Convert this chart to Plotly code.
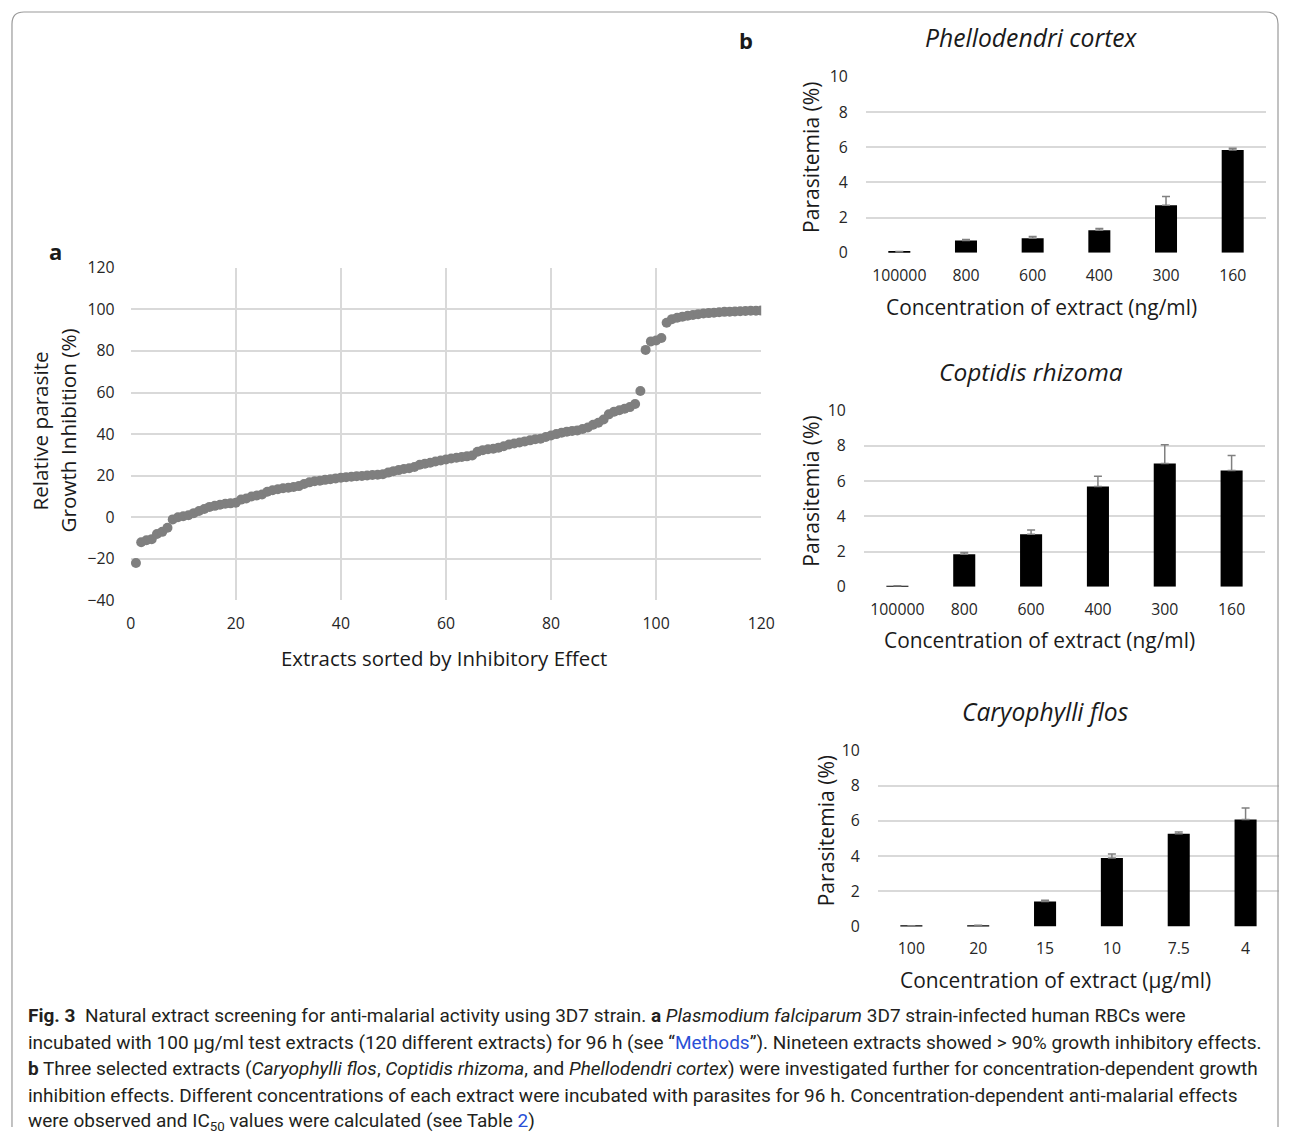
import plotly.graph_objects as go

W, H = 1293, 1138

# ---- panel a: 120 extracts sorted by inhibitory effect ----
extract_rank = list(range(1, 121))
inhibition = [
    -22, -12, -11, -10.5, -8, -7, -5, -1, 0, 0.5,
    1, 2, 3, 4, 5, 5.5, 6, 6.5, 6.7, 7,
    8.5, 9, 10, 10.5, 11, 12.3, 13, 13.5, 14, 14.2,
    14.6, 15, 16, 16.8, 17.3, 17.6, 18, 18.3, 18.7, 19,
    19.3, 19.5, 19.7, 19.9, 20.1, 20.3, 20.5, 20.7, 21.5, 22.2,
    22.7, 23.2, 23.6, 24.2, 25.3, 25.8, 26.2, 26.8, 27.3, 27.8,
    28.3, 28.6, 29, 29.3, 29.7, 31.5, 32.3, 32.7, 33, 33.5,
    34.2, 35, 35.5, 36, 36.5, 37, 37.5, 37.8, 38.6, 39.3,
    40, 40.7, 41.2, 41.5, 41.8, 42.5, 43.2, 44.5, 45.5, 47,
    49.5, 50.8, 51.5, 52.2, 53, 54.5, 60.7, 80.5, 84.6, 85,
    86.2, 93.6, 95.3, 96, 96.5, 96.9, 97.3, 97.7, 98, 98.2,
    98.4, 98.6, 98.8, 98.9, 99, 99.1, 99.2, 99.3, 99.3, 99.4,
]

# ---- panel b: concentration series ----
conc_ng = ["100000", "800", "600", "400", "300", "160"]
conc_ug = ["100", "20", "15", "10", "7.5", "4"]

phellodendri = [0.05, 0.70, 0.82, 1.28, 2.70, 5.84]
phellodendri_err = [0.02, 0.06, 0.10, 0.10, 0.50, 0.10]

coptidis = [0.04, 1.85, 2.98, 5.69, 7.00, 6.60]
coptidis_err = [0.02, 0.10, 0.25, 0.58, 1.06, 0.85]

caryophylli = [0.03, 0.05, 1.42, 3.89, 5.27, 6.07]
caryophylli_err = [0.01, 0.02, 0.07, 0.23, 0.10, 0.66]

CHART_FONT = "Open Sans, sans-serif"
CAPTION_FONT = "Roboto, sans-serif"
GRID = "#d9d9d9"
TICK_COLOR = "#262626"

# on-screen extent of the plotting paper (page pixels)
PAPER_X0, PAPER_X1 = 3, 1280
PAPER_Y0, PAPER_Y1 = 11, 1128


def px_x(x):
    """Page x pixel -> paper fraction."""
    return (x - PAPER_X0) / (PAPER_X1 - PAPER_X0)


def px_y(y):
    """Page y pixel (from top) -> paper fraction."""
    return 1 - (y - PAPER_Y0) / (PAPER_Y1 - PAPER_Y0)


fig = go.Figure()

fig.add_trace(go.Scatter(
    x=extract_rank, y=inhibition, mode="markers",
    marker=dict(color="#7f7f7f", size=10, line=dict(width=0)),
    xaxis="x", yaxis="y", showlegend=False,
))

bar_panels = [
    (conc_ng, phellodendri, phellodendri_err, "x2", "y2"),
    (conc_ng, coptidis, coptidis_err, "x3", "y3"),
    (conc_ug, caryophylli, caryophylli_err, "x4", "y4"),
]
for cats, vals, errs, xa, ya in bar_panels:
    fig.add_trace(go.Bar(
        x=cats, y=vals, width=0.33,
        marker=dict(color="#000000", line=dict(width=0)),
        error_y=dict(type="data", symmetric=False, array=errs,
                     arrayminus=[0] * len(errs), color="#808080",
                     thickness=1.5, width=4),
        xaxis=xa, yaxis=ya, showlegend=False,
    ))

tick_font = dict(family=CHART_FONT, size=15.8, color=TICK_COLOR)

layout = dict(
    width=W, height=H, autosize=False,
    margin=dict(l=0, r=0, t=0, b=0),
    paper_bgcolor="white", plot_bgcolor="white",
    font=dict(family=CHART_FONT, color="#1a1a1a"),
)

# panel a axes
layout["xaxis"] = dict(
    domain=[px_x(129), px_x(761)], range=[0, 120], dtick=20, tick0=0,
    showgrid=True, gridcolor=GRID, gridwidth=1.5, zeroline=False,
    showline=False, ticks="outside", ticklen=9, tickcolor="rgba(0,0,0,0)",
    tickfont=tick_font, anchor="y",
)
layout["yaxis"] = dict(
    domain=[px_y(601), px_y(268)], range=[-40, 120], dtick=20, tick0=0,
    showgrid=True, gridcolor=GRID, gridwidth=1.5, zeroline=False,
    showline=False, ticks="outside", ticklen=12, tickcolor="rgba(0,0,0,0)",
    tickfont=tick_font, anchor="x",
)

# panel b axes: (x-extent px, y top px, y bottom px)
bar_geom = [
    ((866, 1267), 77, 253),
    ((864, 1266), 411, 587.3),
    ((878, 1280), 751, 927.3),
]
for k, ((x0, x1), yt, yb) in enumerate(bar_geom, start=2):
    layout[f"xaxis{k}"] = dict(
        domain=[px_x(x0), min(1.0, px_x(x1))], type="category",
        showgrid=False, zeroline=False, showline=False,
        ticks="outside", ticklen=8, tickcolor="rgba(0,0,0,0)",
        tickfont=tick_font, anchor=f"y{k}",
    )
    layout[f"yaxis{k}"] = dict(
        domain=[px_y(yb), px_y(yt)], range=[0, 10], dtick=2, tick0=0,
        showgrid=True, gridcolor=GRID, gridwidth=1.5, zeroline=False,
        showline=False, ticks="outside", ticklen=14,
        tickcolor="rgba(0,0,0,0)", tickfont=tick_font, anchor=f"x{k}",
    )

fig.update_layout(**layout)


def note(text, x, y, size=20.5, angle=0, xanchor="center", family=CHART_FONT,
         color="#1a1a1a"):
    fig.add_annotation(
        text=text, x=px_x(x), y=px_y(y), xref="paper", yref="paper",
        showarrow=False, textangle=angle, xanchor=xanchor, yanchor="middle",
        font=dict(family=family, size=size, color=color),
    )


# panel labels
note("<b>a</b>", 54, 251, size=22)
note("<b>b</b>", 746, 40, size=22)

# panel a titles
note("Extracts sorted by Inhibitory Effect", 443, 659, size=20.4)
note("Relative parasite", 38, 431, size=20.7, angle=-90)
note("Growth Inhibition (%)", 66, 431, size=20.7, angle=-90)

# panel b titles
note("<i>Phellodendri cortex</i>", 1032, 38, size=24.7)
note("<i>Coptidis rhizoma</i>", 1031, 372, size=24.5)
note("<i>Caryophylli flos</i>", 1046, 712, size=24.6)

note("Concentration of extract (ng/ml)", 1042, 307, size=20.9)
note("Concentration of extract (ng/ml)", 1040, 641, size=20.9)
note("Concentration of extract (µg/ml)", 1056, 981, size=20.9)

note("Parasitemia (%)", 811, 158, size=21.1, angle=-90)
note("Parasitemia (%)", 810, 492, size=21.1, angle=-90)
note("Parasitemia (%)", 825, 832, size=21.1, angle=-90)

# caption
LINK = "#2a4fd6"
caption_lines = [
    "<b>Fig. 3</b>  Natural extract screening for anti-malarial activity using 3D7 strain. "
    "<b>a</b> <i>Plasmodium falciparum</i> 3D7 strain-infected human RBCs were",
    "incubated with 100 µg/ml test extracts (120 different extracts) for 96 h (see “"
    f"<span style='color:{LINK}'>Methods</span>”). Nineteen extracts showed &gt; 90% growth inhibitory effects.",
    "<b>b</b> Three selected extracts (<i>Caryophylli flos</i>, <i>Coptidis rhizoma</i>, and "
    "<i>Phellodendri cortex</i>) were investigated further for concentration-dependent growth",
    "inhibition effects. Different concentrations of each extract were incubated with parasites "
    "for 96 h. Concentration-dependent anti-malarial effects",
    "were observed and IC<sub>50</sub> values were calculated (see Table "
    f"<span style='color:{LINK}'>2</span>)",
]
caption_y = [1016, 1043, 1069, 1096, 1122]
for line, yy in zip(caption_lines, caption_y):
    note(line, 24, yy, size=19.0, xanchor="left", family=CAPTION_FONT,
         color="#231f20")

# figure frame with rounded top corners, open at the bottom edge
r = 12
x0, x1, y0, y1 = 10, 1279, 12, PAPER_Y1
path = (
    f"M {px_x(x0)} {px_y(y1)} L {px_x(x0)} {px_y(y0 + r)} "
    f"Q {px_x(x0)} {px_y(y0)} {px_x(x0 + r)} {px_y(y0)} "
    f"L {px_x(x1 - r)} {px_y(y0)} "
    f"Q {px_x(x1)} {px_y(y0)} {px_x(x1)} {px_y(y0 + r)} "
    f"L {px_x(x1)} {px_y(y1)}"
)
fig.add_shape(type="path", path=path, xref="paper", yref="paper",
              line=dict(color="#9a9a9a", width=1.2))

fig.write_html("out.html")
